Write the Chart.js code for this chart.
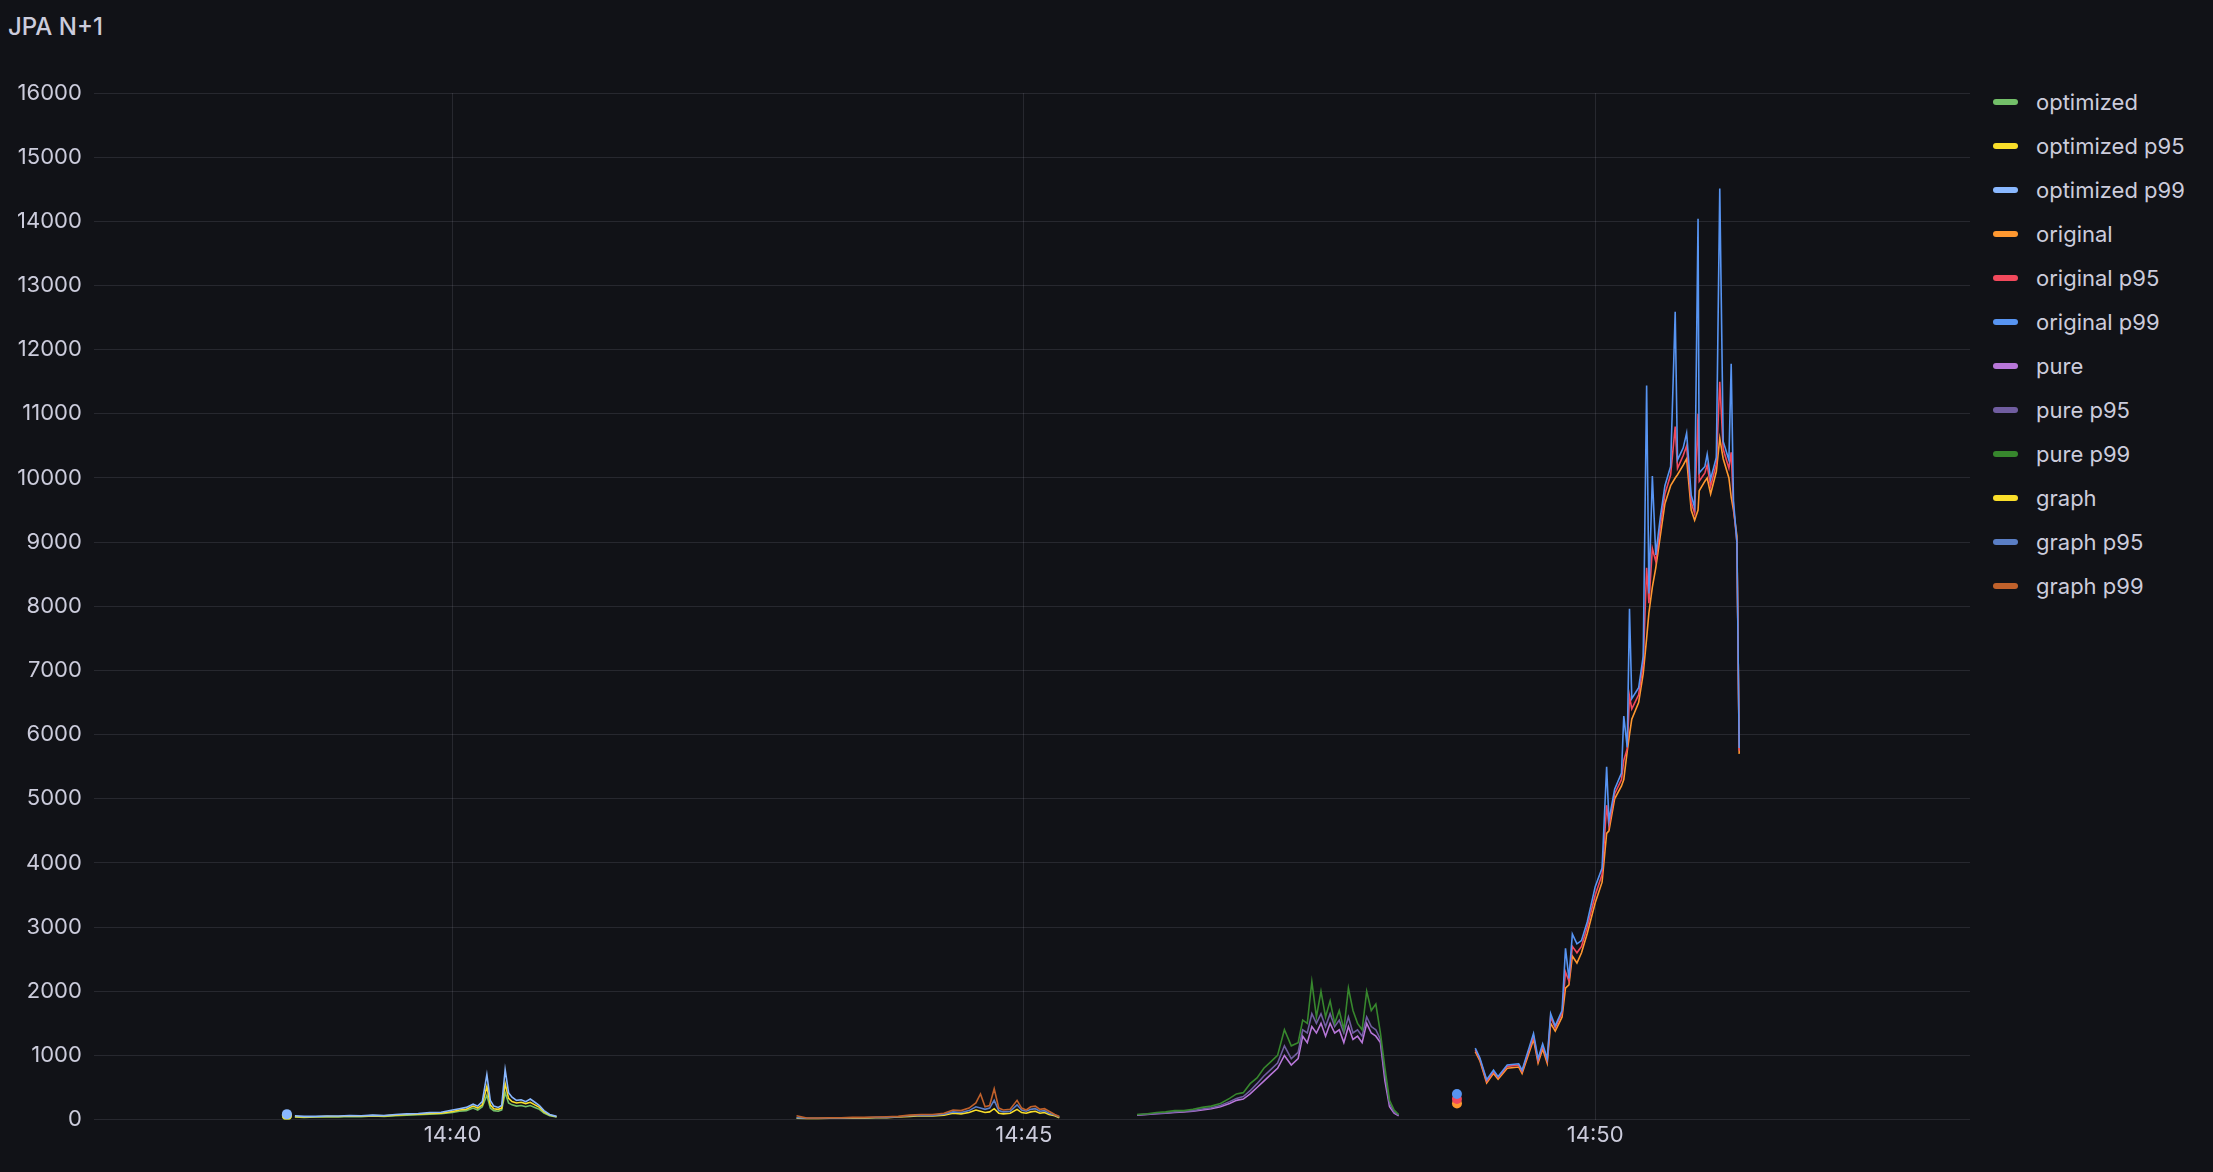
<!DOCTYPE html>
<html><head><meta charset="utf-8">
<script src="https://cdn.jsdelivr.net/npm/chart.js@4"></script>
<style>
html,body{margin:0;padding:0;background:#111217;width:2213px;height:1172px;overflow:hidden;font-family:Inter,sans-serif;color:#ccccdc}
#title{position:absolute;left:8px;top:12px;font-size:24px;font-weight:500;color:#ccccdc}
#wrap{position:absolute;left:0;top:0;width:1980px;height:1172px}
#legend{position:absolute;left:1993px;top:80px}
.li{height:44px;display:flex;align-items:center;font-size:22px;color:#ccccdc}
.sw{width:25px;height:6px;border-radius:3px;margin-right:18px}
</style></head><body>
<div id="title">JPA N+1</div>
<div id="wrap"><canvas id="c" width="1980" height="1172"></canvas></div>
<div id="legend"></div>
<script>
const seriesNames=["optimized","optimized p95","optimized p99","original","original p95","original p99","pure","pure p95","pure p99","graph","graph p95","graph p99"];
const seriesColors=["#73BF69","#FADE2A","#8AB8FF","#FF9830","#F2495C","#5794F2","#B877D9","#705DA0","#37872D","#FADE2A","#5A7EC5","#C0612B"];
const yTicks=[0,1000,2000,3000,4000,5000,6000,7000,8000,9000,10000,11000,12000,13000,14000,15000,16000];
const xTickMinutes=[40,45,50];
const xTickLabels=["14:40","14:45","14:50"];

// minutes after 14:00
const optSoloX=[38.55];
const optSolo=[60], optP95Solo=[65], optP99Solo=[85];
const optX=[38.62,38.7,38.8,38.9,39.0,39.1,39.2,39.3,39.4,39.5,39.6,39.7,39.8,39.9,40.0,40.06,40.12,40.18,40.22,40.26,40.3,40.33,40.36,40.4,40.43,40.46,40.49,40.52,40.56,40.6,40.64,40.68,40.72,40.76,40.8,40.85,40.91];
const opt=[40,35,40,45,40,50,45,55,50,60,70,75,85,90,110,130,140,180,150,200,380,180,140,130,150,420,260,230,210,220,200,220,190,160,100,60,40];
const optP95=[45,40,45,50,48,58,52,62,58,70,80,85,95,100,125,150,160,210,180,230,520,230,170,160,180,560,330,280,260,270,250,270,230,190,120,70,45];
const optP99=[60,50,50,55,55,65,60,70,65,80,90,95,110,115,150,170,190,240,210,280,700,300,210,190,220,780,420,350,300,310,280,320,270,220,140,80,50];

const graphX=[43.01,43.1,43.2,43.3,43.4,43.5,43.6,43.7,43.8,43.9,44.0,44.1,44.2,44.3,44.38,44.45,44.52,44.58,44.62,44.66,44.7,44.74,44.78,44.82,44.88,44.94,44.98,45.02,45.06,45.1,45.14,45.18,45.22,45.27,45.31];
const graph=[20,15,15,20,20,25,20,30,30,40,50,60,55,70,100,90,110,150,130,110,120,170,100,90,100,160,110,100,120,130,100,110,80,60,30];
const graphP95=[30,20,20,25,25,30,28,35,35,45,60,70,65,85,120,110,140,200,180,160,180,300,140,120,130,230,150,130,160,170,130,140,100,70,40];
const graphP99=[60,25,25,30,30,35,35,40,45,50,70,80,80,100,150,140,180,260,400,200,220,480,180,150,160,300,180,150,200,210,160,170,130,80,50];

const pureX=[45.99,46.08,46.16,46.24,46.32,46.4,46.48,46.56,46.64,46.72,46.8,46.86,46.92,46.98,47.04,47.1,47.16,47.22,47.28,47.34,47.4,47.44,47.48,47.52,47.56,47.6,47.64,47.68,47.72,47.76,47.8,47.84,47.88,47.92,47.96,48.0,48.04,48.08,48.12,48.16,48.2,48.24,48.28];
const pure=[70,80,90,100,110,120,130,150,170,200,250,300,320,400,500,600,700,800,1000,850,950,1300,1200,1450,1350,1500,1300,1500,1350,1400,1200,1450,1250,1300,1200,1500,1350,1300,1200,600,200,100,60];
const pureP95=[75,85,95,105,120,130,140,165,185,220,280,330,360,450,560,680,780,880,1150,950,1050,1400,1350,1650,1500,1650,1450,1650,1450,1550,1350,1600,1350,1400,1300,1600,1450,1400,1250,700,250,120,70];
const pureP99=[80,90,110,120,140,140,160,190,210,250,330,400,420,560,650,800,900,1000,1400,1150,1200,1550,1500,2150,1600,2000,1600,1850,1500,1700,1400,2050,1700,1500,1400,2000,1700,1800,1350,800,300,150,80];

const origSoloX=[48.79];
const origSolo=[250], origP95Solo=[320], origP99Solo=[400];
const origX=[48.95,48.99,49.05,49.11,49.15,49.23,49.33,49.36,49.46,49.50,49.54,49.58,49.61,49.65,49.71,49.74,49.77,49.80,49.84,49.88,49.93,50.00,50.06,50.10,50.12,50.17,50.23,50.25,50.28,50.30,50.32,50.38,50.42,50.45,50.47,50.50,50.53,50.57,50.61,50.66,50.70,50.72,50.77,50.80,50.84,50.87,50.90,50.91,50.96,50.98,51.01,51.06,51.09,51.12,51.17,51.19,51.21,51.24,51.26];
const orig=[1060,920,570,720,630,800,820,720,1250,880,1100,880,1500,1380,1600,2050,2100,2550,2440,2600,2900,3380,3700,4460,4500,5000,5200,5300,5740,6000,6240,6500,6950,7500,7900,8300,8600,9100,9600,9880,10000,10050,10200,10300,9500,9340,9500,9800,9950,10000,9750,10100,10620,10300,10000,9700,9500,9100,5700];
const origP95=[1090,945,600,750,655,830,850,750,1300,920,1150,920,1600,1430,1660,2300,2160,2700,2600,2700,3000,3500,3820,4900,4580,5080,5300,5600,5780,6600,6400,6620,7100,8600,8050,8900,8700,9250,9750,10050,10800,10150,10350,10500,9620,9450,11000,9950,10080,10200,9870,10220,11500,10450,10150,10400,9560,9000,5750];
const origP99=[1113,965,620,770,670,850,870,770,1340,950,1180,950,1650,1460,1700,2670,2200,2890,2740,2790,3080,3630,3920,5500,4660,5150,5400,6290,5800,7960,6560,6730,7220,11440,8200,10030,8800,9390,9880,10180,12590,10280,10470,10700,9730,9540,14040,10080,10180,10370,9980,10320,14510,10570,10280,11780,9640,9000,5790];

function pts(xs,ys,soloX,soloY){
  const out=[];
  if(soloX){soloX.forEach((x,i)=>out.push({x:x,y:soloY[i]}));out.push({x:soloX[soloX.length-1]+0.03,y:null});}
  xs.forEach((x,i)=>out.push({x:x,y:ys[i]}));
  return out;
}
const seriesData=[
  pts(optX,opt,optSoloX,optSolo),pts(optX,optP95,optSoloX,optP95Solo),pts(optX,optP99,optSoloX,optP99Solo),
  pts(origX,orig,origSoloX,origSolo),pts(origX,origP95,origSoloX,origP95Solo),pts(origX,origP99,origSoloX,origP99Solo),
  pts(pureX,pure),pts(pureX,pureP95),pts(pureX,pureP99),
  pts(graphX,graph),pts(graphX,graphP95),pts(graphX,graphP99)
];
const datasets=seriesNames.map((n,i)=>({
  label:n,data:seriesData[i],borderColor:seriesColors[i],backgroundColor:seriesColors[i],
  borderWidth:1.6,tension:0,spanGaps:false,order:12-i,
  pointRadius:ctx=>{const d=ctx.dataset.data,k=ctx.dataIndex;const p=d[k-1],q=d[k+1];
    return (d[k]&&d[k].y!=null&&(!p||p.y==null)&&(!q||q.y==null))?5:0;},
  pointBorderWidth:0
}));

new Chart(document.getElementById('c'),{
  type:'line',data:{datasets},
  options:{responsive:false,animation:false,
    layout:{padding:{top:93,right:10,left:5,bottom:20}},
    plugins:{legend:{display:false},tooltip:{enabled:false}},
    scales:{
      x:{type:'linear',min:36.86,max:53.28,
        afterBuildTicks:a=>{a.ticks=xTickMinutes.map(v=>({value:v}));},
        ticks:{color:'#ccccdc',font:{family:'Inter',size:22},maxRotation:0,autoSkip:false,
          callback:v=>xTickLabels[xTickMinutes.indexOf(v)]},
        grid:{color:'rgba(204,204,220,0.12)',drawTicks:false},border:{display:false}},
      y:{min:0,max:16000,
        afterBuildTicks:a=>{a.ticks=yTicks.map(v=>({value:v}));},
        ticks:{color:'#ccccdc',font:{family:'Inter',size:22},padding:12,callback:v=>String(v)},
        grid:{color:'rgba(204,204,220,0.12)',drawTicks:false},border:{display:false}}
    }}
});
const lg=document.getElementById('legend');
seriesNames.forEach((n,i)=>{const d=document.createElement('div');d.className='li';
  d.innerHTML='<span class="sw" style="background:'+seriesColors[i]+'"></span>'+n;lg.appendChild(d);});
</script></body></html>
